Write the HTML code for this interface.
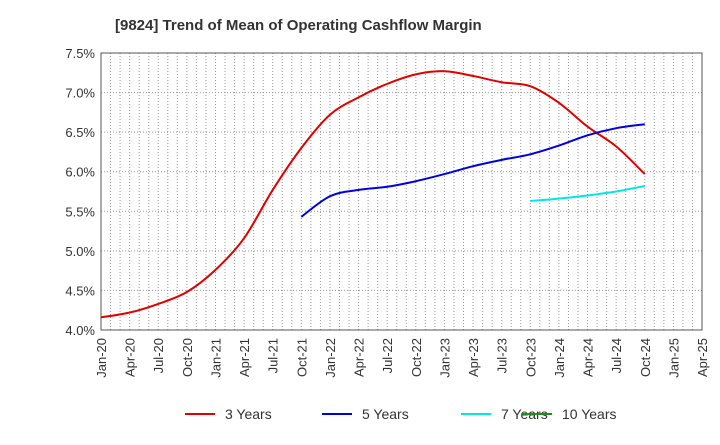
<!DOCTYPE html>
<html><head><meta charset="utf-8"><style>
body{margin:0;background:#fff;font-family:"Liberation Sans",sans-serif;}
svg text{font-family:"Liberation Sans",sans-serif;}
</style></head><body>
<svg id="chart" width="720" height="440">
<text x="115" y="30" font-size="15" font-weight="bold" fill="#333">[9824]  Trend of Mean of Operating Cashflow Margin</text>
<g id="grid"></g><g id="axes"></g><g id="series"></g><g id="legend"></g>
</svg>
<script>
const xLabels=["Jan-20","Apr-20","Jul-20","Oct-20","Jan-21","Apr-21","Jul-21","Oct-21","Jan-22","Apr-22","Jul-22","Oct-22","Jan-23","Apr-23","Jul-23","Oct-23","Jan-24","Apr-24","Jul-24","Oct-24","Jan-25","Apr-25"];
const yTicks=[4.0,4.5,5.0,5.5,6.0,6.5,7.0,7.5];
const s3=[4.16,4.22,4.33,4.48,4.76,5.16,5.77,6.30,6.72,6.94,7.11,7.23,7.27,7.21,7.13,7.08,6.87,6.57,6.32,5.97];
const s3Start=0;
const s5=[5.43,5.69,5.77,5.81,5.88,5.97,6.07,6.15,6.22,6.33,6.46,6.55,6.60];
const s5Start=7;
const s7=[5.63,5.66,5.70,5.75,5.82];
const s7Start=15;
const s10=[];
const s10Start=19;
const seriesNames=["3 Years","5 Years","7 Years","10 Years"];
const colors=["#e00000","#0000dd","#00e5e5","#228b22"];
const L=101,R=702,T=53,B=330;
const NS="http://www.w3.org/2000/svg";
const xs=i=>L+(R-L)*i/(xLabels.length-1);
const ys=v=>B-(v-4.0)/(3.5)*(B-T);
function mk(tag,attrs,parent){const e=document.createElementNS(NS,tag);for(const k in attrs)e.setAttribute(k,attrs[k]);parent.appendChild(e);return e;}
const grid=document.getElementById('grid'),axes=document.getElementById('axes'),ser=document.getElementById('series'),leg=document.getElementById('legend');
for(let m=1;m<(xLabels.length-1)*3;m++){const x=L+(R-L)*m/((xLabels.length-1)*3);
const l=mk('line',{x1:x,x2:x,y1:T,y2:B,stroke:'#999','stroke-dasharray':'1,2','stroke-width':1},grid);

}
yTicks.forEach(v=>{const y=ys(v);
const l=mk('line',{x1:L,x2:R,y1:y,y2:y,stroke:'#999','stroke-dasharray':'1,2'},grid);


const t=mk('text',{x:L-6,y:y+5,'text-anchor':'end','font-size':13,fill:'#333'},axes);t.textContent=v.toFixed(1)+'%';

});
const fr=mk('rect',{x:L,y:T,width:R-L,height:B-T,fill:'none',stroke:'#555'},axes);


xLabels.forEach((s,i)=>{const x=xs(i);const t=mk('text',{x:0,y:0,'text-anchor':'end','font-size':13,fill:'#333',transform:`translate(${x+5},${B+8}) rotate(-90)`},axes);t.textContent=s;

});
function path(data,start){if(data.length<2)return '';const p=data.map((v,i)=>[xs(start+i),ys(v)]);let d=`M${p[0][0]},${p[0][1]}`;
for(let i=0;i<p.length-1;i++){const p0=p[Math.max(0,i-1)],p1=p[i],p2=p[i+1],p3=p[Math.min(p.length-1,i+2)];
d+=` C${p1[0]+(p2[0]-p0[0])/6},${p1[1]+(p2[1]-p0[1])/6} ${p2[0]-(p3[0]-p1[0])/6},${p2[1]-(p3[1]-p1[1])/6} ${p2[0]},${p2[1]}`;}return d;}
[[s3,s3Start],[s5,s5Start],[s7,s7Start],[s10,s10Start]].forEach((s,k)=>{const d=path(s[0],s[1]);if(!d)return;
const e=mk('path',{d:d,fill:'none',stroke:colors[k],'stroke-width':2},ser);

});
const lx=[185,322,461,522];
seriesNames.forEach((n,k)=>{const g=mk('g',{},leg);


mk('line',{x1:lx[k],x2:lx[k]+30,y1:414,y2:414,stroke:colors[k],'stroke-width':2},g);
const t=mk('text',{x:lx[k]+40,y:419,'font-size':14,fill:'#333'},g);t.textContent=n;});
</script>
</body></html>
